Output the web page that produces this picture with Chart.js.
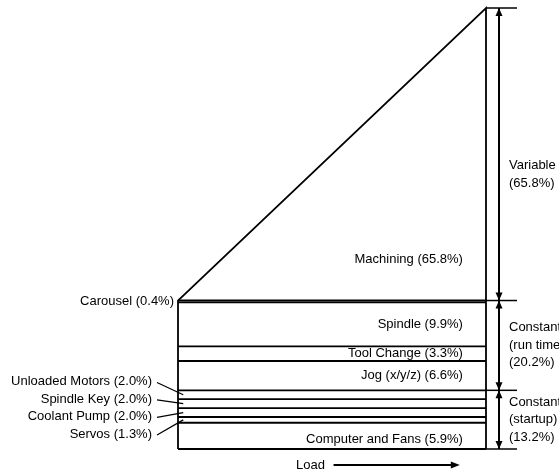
<!DOCTYPE html>
<html><head><meta charset="utf-8">
<script src="https://cdn.jsdelivr.net/npm/chart.js@4.4.0/dist/chart.umd.min.js"></script>
<style>html,body{margin:0;padding:0;background:#fff}#wrap{width:559px;height:476px;position:relative}</style>
</head><body><div id="wrap"><canvas id="c"></canvas></div>
<script>
// Bands, bottom to top
const categories = ["Computer and Fans","Servos","Coolant Pump","Spindle Key","Unloaded Motors","Jog (x/y/z)","Tool Change","Spindle","Carousel","Machining"];
const values = [5.9, 1.3, 2.0, 2.0, 2.0, 6.6, 3.3, 9.9, 0.4, 65.8];
// Groups, bottom to top
const groupNames = [["Constant","(startup)"],["Constant","(run time)"],["Variable"]];
const groupValues = [13.2, 20.2, 65.8];
const groupSizes = [5, 4, 1];
const axisLabel = "Load";

const FONT = '13px "Liberation Sans", Arial, sans-serif';
const cum = [0];
values.forEach(v => cum.push(+(cum[cum.length-1] + v).toFixed(2)));
const topVal = cum[cum.length-1];
const n = values.length;

const mk = (pts, w) => ({data: pts, borderColor: '#000', backgroundColor: '#000', borderWidth: w || 1.8,
  pointRadius: 0, showLine: true, fill: false, clip: false, tension: 0});
const datasets = [];
for (let i = 0; i < n; i++) datasets.push(mk([{x:0, y:cum[i]}, {x:1, y:cum[i]}]));
datasets.push(mk([{x:0, y:0}, {x:0, y:cum[n-1]}, {x:1, y:topVal}, {x:1, y:0}]));

const pct = v => '(' + v.toFixed(1) + '%)';

function arrowHead(ctx, x, y, dir, len, hw) {
  ctx.beginPath();
  if (dir === 'up') { ctx.moveTo(x, y); ctx.lineTo(x - hw, y + len); ctx.lineTo(x + hw, y + len); }
  else if (dir === 'down') { ctx.moveTo(x, y); ctx.lineTo(x - hw, y - len); ctx.lineTo(x + hw, y - len); }
  else { ctx.moveTo(x, y); ctx.lineTo(x - len, y - hw); ctx.lineTo(x - len, y + hw); }
  ctx.closePath(); ctx.fill();
}

const annot = {
  id: 'annot',
  afterDatasetsDraw(chart) {
    const ctx = chart.ctx, xs = chart.scales.x, ys = chart.scales.y, ca = chart.chartArea;
    ctx.save();
    ctx.fillStyle = '#000'; ctx.strokeStyle = '#000'; ctx.font = FONT;
    ctx.textBaseline = 'middle';
    const mid = i => ys.getPixelForValue((cum[i] + cum[i+1]) / 2);
    ctx.textAlign = 'right';
    const inside = [0, 5, 6, 7];
    inside.forEach(i => ctx.fillText(categories[i] + ' ' + pct(values[i]), xs.getPixelForValue(0.925), mid(i) + (i === 0 ? 4 : 0)));
    ctx.fillText(categories[n-1] + ' ' + pct(values[n-1]), xs.getPixelForValue(0.925), ys.getPixelForValue(cum[n-1] + values[n-1] * 0.14));
    ctx.fillText(categories[8] + ' ' + pct(values[8]), ca.left - 4, mid(8));
    const small = [4, 3, 2, 1];
    const meanC = small.reduce((s, i) => s + mid(i), 0) / small.length;
    ctx.lineWidth = 1.2;
    small.forEach((i, k) => {
      const ly = meanC + (k - 1.5) * 17.5;
      ctx.fillText(categories[i] + ' ' + pct(values[i]), ca.left - 26, ly);
      ctx.beginPath(); ctx.moveTo(ca.left - 21, ly + 1); ctx.lineTo(xs.getPixelForValue(0.017), mid(i)); ctx.stroke();
    });
    const ax = ca.right + 13;
    ctx.lineWidth = 2;
    ctx.beginPath(); ctx.moveTo(ax, ys.getPixelForValue(topVal)); ctx.lineTo(ax, ys.getPixelForValue(0)); ctx.stroke();
    let g0 = 0;
    ctx.textAlign = 'left';
    groupValues.forEach((gv, g) => {
      const a = g0, b = g0 + gv;
      const ya = ys.getPixelForValue(a), yb = ys.getPixelForValue(b);
      arrowHead(ctx, ax, yb, 'up', 8, 3.5);
      arrowHead(ctx, ax, ya, 'down', 8, 3.5);
      const lines = groupNames[g].concat([pct(gv)]);
      const cy = (ya + yb) / 2 + (g === 2 ? 20 : 0);
      lines.forEach((t, k) => ctx.fillText(t, ca.right + 23, cy + (k - (lines.length - 1) / 2) * 17.5));
      g0 = b;
    });
    ctx.lineWidth = 1.5;
    let acc = 0;
    [0].concat(groupValues).forEach(v => {
      acc += v;
      const y = ys.getPixelForValue(+acc.toFixed(2));
      ctx.beginPath(); ctx.moveTo(ca.right, y); ctx.lineTo(ca.right + 31, y); ctx.stroke();
    });
    const ly = ca.bottom + 16;
    ctx.textAlign = 'center';
    ctx.fillText(axisLabel, xs.getPixelForValue(0.43), ly);
    ctx.lineWidth = 2;
    const x1 = xs.getPixelForValue(0.505), x2 = xs.getPixelForValue(0.915);
    ctx.beginPath(); ctx.moveTo(x1, ly); ctx.lineTo(x2 - 6, ly); ctx.stroke();
    arrowHead(ctx, x2, ly, 'right', 9, 3.5);
    ctx.restore();
  }
};

new Chart(document.getElementById('c'), {
  type: 'scatter',
  data: {datasets},
  options: {
    responsive: true, maintainAspectRatio: false, animation: false,
    layout: {padding: {left: 178, right: 73, top: 8, bottom: 27}},
    scales: {
      x: {type: 'linear', min: 0, max: 1, display: false},
      y: {type: 'linear', min: 0, max: topVal, display: false}
    },
    plugins: {legend: {display: false}, tooltip: {enabled: false}}
  },
  plugins: [annot]
});
</script></body></html>
